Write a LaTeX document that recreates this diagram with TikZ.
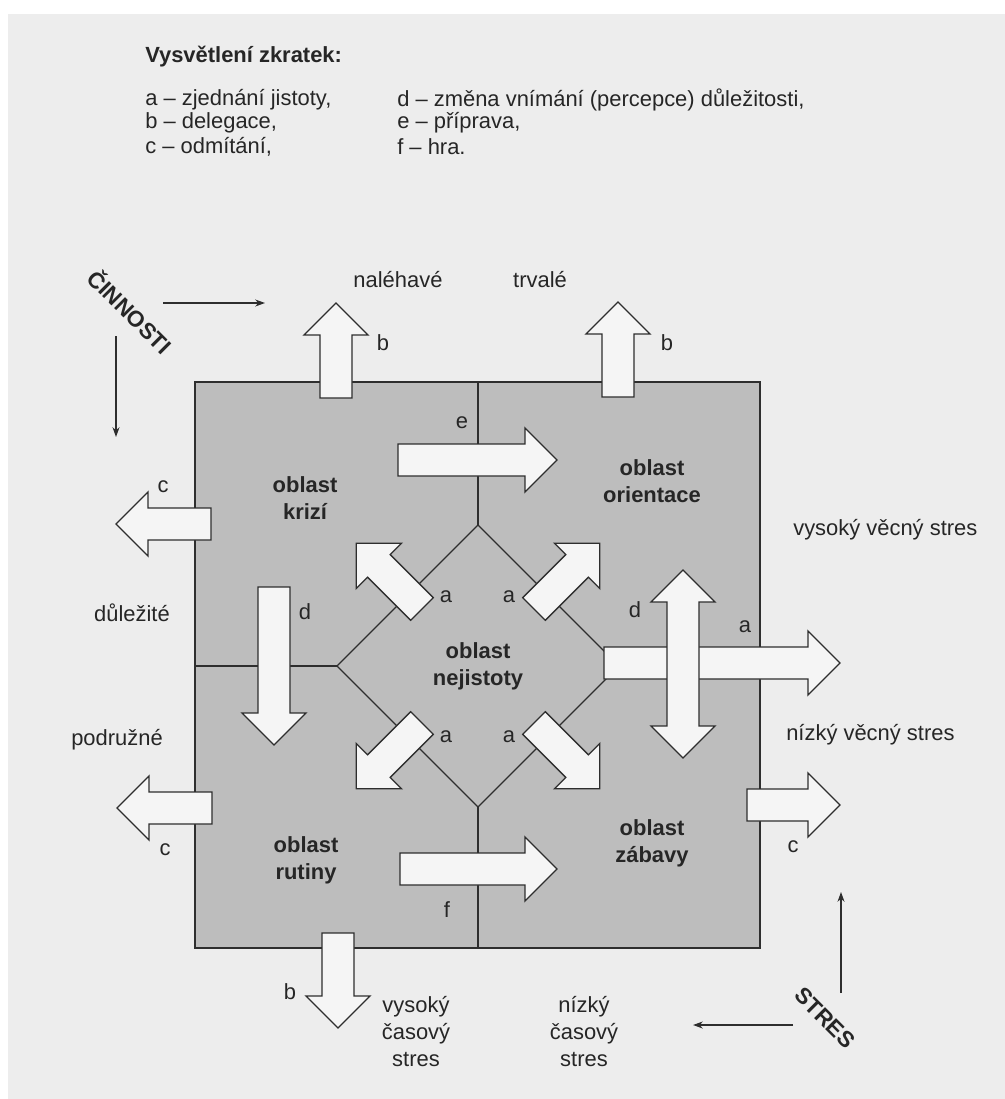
\documentclass[tikz,border=0pt]{standalone}
\usepackage{fontspec}
\setmainfont{Liberation Sans}
\usetikzlibrary{arrows.meta}

\definecolor{pagebg}{gray}{0.93}
\definecolor{zonegray}{gray}{0.74}
\definecolor{arrowfill}{gray}{0.96}
\definecolor{inkline}{gray}{0.18}
\definecolor{inktext}{gray}{0.15}

\tikzset{
  zone/.style={draw=inkline, line width=1.1pt, fill=zonegray},
  divider/.style={draw=inkline, line width=0.9pt},
  arrowbox/.style={draw=inkline, line width=0.9pt, fill=arrowfill, line join=miter},
  lbl/.style={text=inktext, font=\fontsize{15.6}{18}\selectfont, inner sep=0pt},
  zonelbl/.style={lbl, font=\bfseries\fontsize{15.6}{19.2}\selectfont, align=center},
  stacklbl/.style={lbl, font=\fontsize{15.6}{19.2}\selectfont, align=center},
  axislbl/.style={lbl, font=\bfseries\fontsize{16}{18}\selectfont, rotate=-45},
  axisarrow/.style={draw=inkline, line width=0.9pt, -{Stealth[length=7pt,width=5pt]}},
  pics/blockarrow/.style={code={
    \draw[arrowbox] (0,-16) -- (#1,-16) -- (#1,-32) -- (#1+32,0) -- (#1,32) -- (#1,16) -- (0,16) -- cycle;
  }}
}

\begin{document}
\begin{tikzpicture}[x=0.025cm, y=-0.025cm]
    % Page and scan background
    \useasboundingbox (0,0) rectangle (1005,1099);
    \fill[white] (0,0) rectangle (1005,1099);
    \fill[pagebg] (8,14) rectangle (1005,1099);

    % Legend
    \node[lbl, font=\bfseries\fontsize{15.6}{18}\selectfont, anchor=west] (legtitle) at (145,57) {Vysvětlení zkratek:};
    \node[lbl, anchor=west] (lega) at (145,100) {a – zjednání jistoty,};
    \node[lbl, anchor=west] (legb) at (145,123) {b – delegace,};
    \node[lbl, anchor=west] (legc) at (145,147) {c – odmítání,};
    \node[lbl, anchor=west] (legd) at (397,100) {d – změna vnímání (percepce) důležitosti,};
    \node[lbl, anchor=west] (lege) at (397,123) {e – příprava,};
    \node[lbl, anchor=west] (legf) at (397,147) {f – hra.};

    % Grey field with its four areas
    \draw[zone] (195,382) rectangle (760,948);
    \draw[divider] (478,382) -- (478,525);
    \draw[divider] (478,525) -- (337,666) -- (478,807) -- (619,666) -- cycle;
    \draw[divider] (195,666) -- (337,666);
    \draw[divider] (619,666) -- (760,666);
    \draw[divider] (478,807) -- (478,948);

    % Block arrows
    \pic[rotate=90] at (336,398) {blockarrow=63};   % b
    \pic[rotate=90] at (618,397) {blockarrow=63};   % b
    \pic at (398,460) {blockarrow=127};             % e
    \pic[rotate=180] at (211,524) {blockarrow=63};  % c
    \pic[rotate=180] at (212,808) {blockarrow=63};  % c
    \pic[rotate=-90] at (274,587) {blockarrow=126}; % d
    \pic[rotate=135] at (422,609) {blockarrow=61};  % a
    \pic[rotate=45] at (534,609) {blockarrow=61};   % a
    \pic[rotate=225] at (422,723) {blockarrow=61};  % a
    \pic[rotate=-45] at (534,723) {blockarrow=61};  % a
    \pic at (604,663) {blockarrow=204};             % a
    \pic at (747,805) {blockarrow=61};              % c
    \pic at (400,869) {blockarrow=125};             % f
    \pic[rotate=-90] at (338,933) {blockarrow=63};  % b
    % d, both ways
    \draw[arrowbox] (683,570) -- (715,602) -- (699,602) -- (699,726) -- (715,726) -- (683,758)
        -- (651,726) -- (667,726) -- (667,602) -- (651,602) -- cycle;

    % Arrow letters
    \node[lbl] (lbtl) at (383,343) {b};
    \node[lbl] (lbtr) at (667,343) {b};
    \node[lbl] (lbbot) at (290,992) {b};
    \node[lbl] (lctop) at (163,487) {c};
    \node[lbl] (lcbot) at (165,850) {c};
    \node[lbl] (lcright) at (793,847) {c};
    \node[lbl] (le) at (462,423) {e};
    \node[lbl] (lf) at (447,910) {f};
    \node[lbl] (ldleft) at (305,612) {d};
    \node[lbl] (ldright) at (635,610) {d};
    \node[lbl] (laul) at (446,597) {a};
    \node[lbl] (laur) at (509,597) {a};
    \node[lbl] (lall) at (446,737) {a};
    \node[lbl] (lalr) at (509,737) {a};
    \node[lbl] (laright) at (745,627) {a};

    % Area names
    \node[zonelbl] (crises) at (305,498) {oblast\\krizí};
    \node[zonelbl] (orient) at (652,481) {oblast\\orientace};
    \node[zonelbl] (uncert) at (478,666) {oblast\\nejistoty};
    \node[zonelbl] (routine) at (306,860) {oblast\\rutiny};
    \node[zonelbl] (fun) at (652,843) {oblast\\zábavy};

    % Side labels
    \node[lbl] (urgent) at (398,280) {naléhavé};
    \node[lbl] (lasting) at (540,280) {trvalé};
    \node[lbl] (important) at (132,613) {důležité};
    \node[lbl] (minor) at (117,740) {podružné};
    \node[lbl, anchor=west] (highfact) at (793,530) {vysoký věcný stres};
    \node[lbl, anchor=west] (lowfact) at (786,735) {nízký věcný stres};
    \node[stacklbl] (hightime) at (416,1032) {vysoký\\časový\\stres};
    \node[stacklbl] (lowtime) at (584,1032) {nízký\\časový\\stres};

    % Axis titles
    \node[axislbl] (activity) at (131,311) {ČINNOSTI};
    \node[axislbl] (stress) at (825,1018) {STRES};
    \coordinate (actright0) at (163,303);
    \coordinate (actright1) at (265,303);
    \coordinate (actdown0) at (116,336);
    \coordinate (actdown1) at (116,437);
    \coordinate (strup0) at (841,993);
    \coordinate (strup1) at (841,892);
    \coordinate (strleft0) at (793,1025);
    \coordinate (strleft1) at (693,1025);
    \draw[axisarrow] (actright0) -- (actright1);
    \draw[axisarrow] (actdown0) -- (actdown1);
    \draw[axisarrow] (strup0) -- (strup1);
    \draw[axisarrow] (strleft0) -- (strleft1);
\end{tikzpicture}
\end{document}
